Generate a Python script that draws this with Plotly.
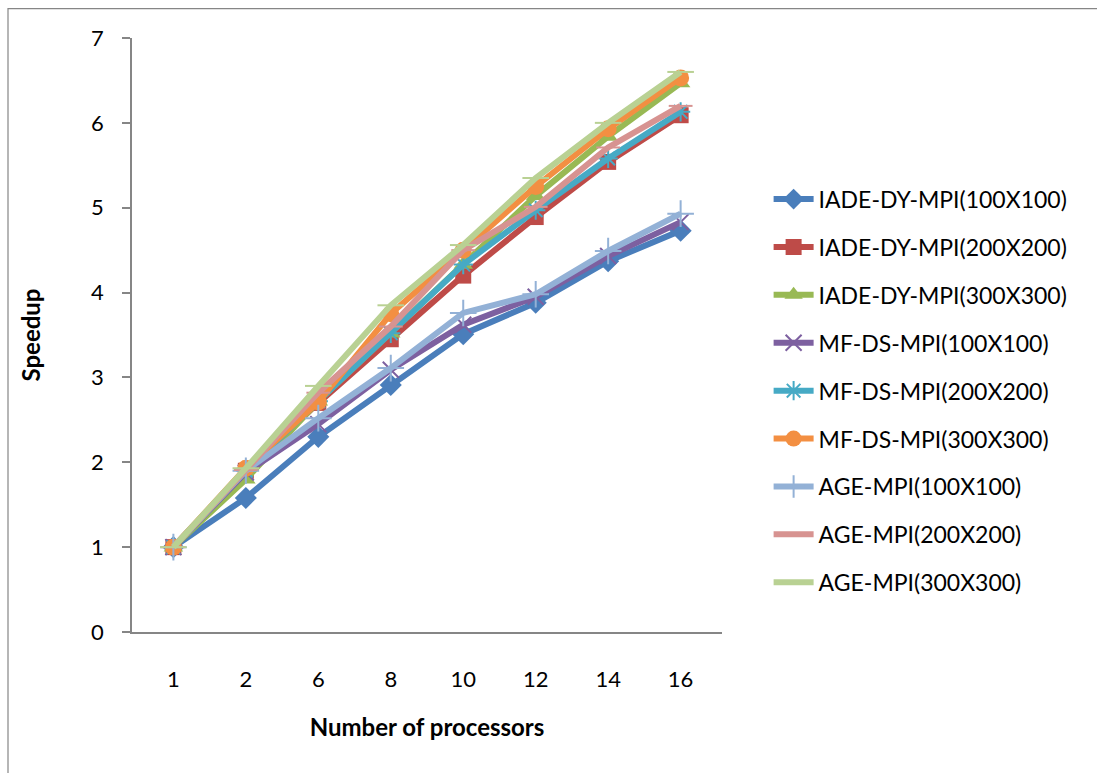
import plotly.graph_objects as go

# Processor counts (categorical x axis)
processors = ["1", "2", "6", "8", "10", "12", "14", "16"]

# Speedup per method / grid size
iade_100 = [1.00, 1.58, 2.30, 2.91, 3.51, 3.88, 4.37, 4.73]
iade_200 = [1.00, 1.90, 2.70, 3.45, 4.20, 4.89, 5.54, 6.09]
iade_300 = [1.00, 1.80, 2.72, 3.52, 4.33, 5.14, 5.84, 6.47]
mfds_100 = [1.00, 1.88, 2.45, 3.09, 3.62, 3.95, 4.43, 4.83]
mfds_200 = [1.00, 1.90, 2.72, 3.52, 4.33, 4.97, 5.58, 6.13]
mfds_300 = [1.00, 1.93, 2.71, 3.75, 4.50, 5.25, 5.93, 6.53]
age_100 = [1.00, 1.90, 2.52, 3.11, 3.76, 3.98, 4.49, 4.93]
age_200 = [1.00, 1.91, 2.82, 3.60, 4.50, 5.01, 5.71, 6.20]
age_300 = [1.00, 1.93, 2.90, 3.85, 4.56, 5.35, 6.00, 6.60]

series = [
    ("IADE-DY-MPI(100X100)", iade_100, "#4A7EBB", "diamond", 17),
    ("IADE-DY-MPI(200X200)", iade_200, "#BE4B48", "square", 16),
    ("IADE-DY-MPI(300X300)", iade_300, "#98B954", "triangle-up", 17),
    ("MF-DS-MPI(100X100)", mfds_100, "#7D60A0", "x-thin-open", 16),
    ("MF-DS-MPI(200X200)", mfds_200, "#46AAC5", "asterisk-open", 16),
    ("MF-DS-MPI(300X300)", mfds_300, "#F38F42", "circle", 17),
    ("AGE-MPI(100X100)", age_100, "#93B1D6", "cross-thin-open", 19),
    ("AGE-MPI(200X200)", age_200, "#D79391", "line-ew-open", 17),
    ("AGE-MPI(300X300)", age_300, "#B9D193", "line-ew-open", 19),
]

FONT = "Lato, 'Open Sans', Arial, sans-serif"

fig = go.Figure()
for i, (name, vals, color, symbol, size) in enumerate(series):
    fig.add_trace(go.Scatter(
        x=processors, y=vals, name=name, mode="lines+markers",
        legendgroup=f"g{i}",
        line=dict(color=color, width=6),
        marker=dict(symbol=symbol, size=size, color=color,
                    line=dict(color=color, width=2 if "open" in symbol else 0)),
    ))

fig.update_layout(
    width=1097, height=773,
    margin=dict(l=132, r=375, t=37.5, b=140.5),
    paper_bgcolor="white", plot_bgcolor="white",
    font=dict(family=FONT, size=21, color="black"),
    showlegend=True,
    legend=dict(
        x=1.079, y=0.765, xanchor="left", yanchor="top",
        font=dict(family=FONT, size=23, color="black"),
        tracegroupgap=15, traceorder="grouped",
        itemwidth=40, bgcolor="rgba(0,0,0,0)",
    ),
    xaxis=dict(
        type="category", showline=True, linecolor="#868686", linewidth=1.5,
        showgrid=False, ticks="", ticklabelstandoff=27,
        tickfont=dict(family=FONT, size=22),
        title=dict(text="<b>Number of processors</b>", standoff=28,
                   font=dict(family=FONT, size=24)),
    ),
    yaxis=dict(
        range=[0, 7], dtick=1, showline=True, linecolor="#868686", linewidth=1.5,
        showgrid=False, zeroline=False, ticks="outside", ticklen=8,
        tickcolor="#868686", tickwidth=1.5, ticklabelstandoff=14,
        tickfont=dict(family=FONT, size=22),
        title=dict(text="<b>Speedup</b>", standoff=44,
                   font=dict(family=FONT, size=24)),
    ),
    shapes=[dict(
        type="rect", xref="paper", yref="paper",
        x0=(8 - 132) / 590, x1=(1110 - 132) / 590,
        y0=(632.5 - 790) / 595, y1=(632.5 - 8) / 595,
        line=dict(color="#868686", width=1.2), fillcolor="rgba(0,0,0,0)",
        layer="below",
    )],
)

fig.write_html("out.html")
